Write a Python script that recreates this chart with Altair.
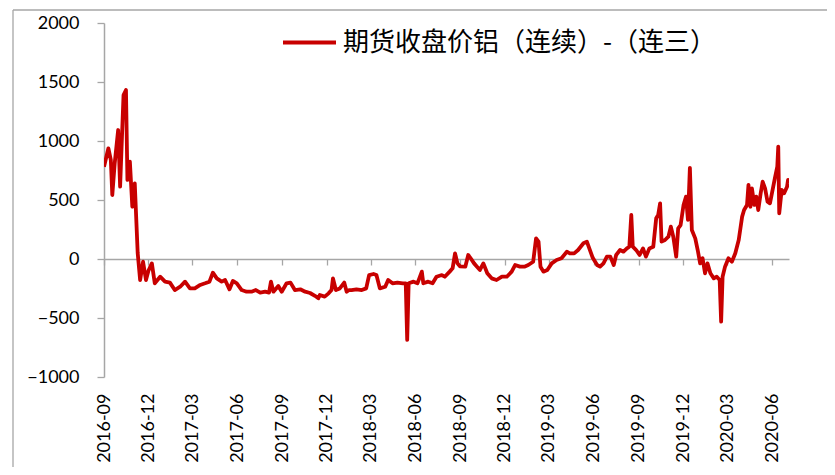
import altair as alt
import pandas as pd

# ---- data ----
dates = [
    "2016-09-01", "2016-09-10", "2016-09-15", "2016-09-18", "2016-09-23", "2016-09-30",
    "2016-10-04", "2016-10-11", "2016-10-16", "2016-10-19", "2016-10-24", "2016-10-29",
    "2016-11-03", "2016-11-09", "2016-11-14", "2016-11-20", "2016-11-26", "2016-12-01",
    "2016-12-08", "2016-12-14", "2016-12-25", "2017-01-04", "2017-01-14", "2017-01-24",
    "2017-02-04", "2017-02-14", "2017-02-24", "2017-03-06", "2017-03-17", "2017-03-27",
    "2017-04-05", "2017-04-12", "2017-04-20", "2017-04-30", "2017-05-07", "2017-05-16",
    "2017-05-23", "2017-05-31", "2017-06-10", "2017-06-20", "2017-06-30", "2017-07-09",
    "2017-07-18", "2017-07-28", "2017-08-05", "2017-08-09", "2017-08-14", "2017-08-24",
    "2017-08-31", "2017-09-10", "2017-09-18", "2017-09-27", "2017-10-08", "2017-10-18",
    "2017-10-28", "2017-11-07", "2017-11-14", "2017-11-17", "2017-11-27", "2017-12-05",
    "2017-12-11", "2017-12-14", "2017-12-20", "2017-12-28", "2018-01-06", "2018-01-11",
    "2018-01-16", "2018-01-21", "2018-01-31", "2018-02-11", "2018-02-20", "2018-02-26",
    "2018-03-07", "2018-03-13", "2018-03-20", "2018-03-31", "2018-04-06", "2018-04-15",
    "2018-04-25", "2018-05-06", "2018-05-12", "2018-05-15", "2018-05-18", "2018-05-28",
    "2018-06-05", "2018-06-14", "2018-06-17", "2018-06-27", "2018-07-06", "2018-07-14",
    "2018-07-25", "2018-07-31", "2018-08-10", "2018-08-16", "2018-08-21", "2018-08-26",
    "2018-08-31", "2018-09-11", "2018-09-17", "2018-09-22", "2018-09-29", "2018-10-05",
    "2018-10-11", "2018-10-18", "2018-10-26", "2018-11-04", "2018-11-14", "2018-11-25",
    "2018-12-05", "2018-12-15", "2018-12-22", "2019-01-01", "2019-01-10", "2019-01-18",
    "2019-01-28", "2019-02-03", "2019-02-08", "2019-02-12", "2019-02-18", "2019-02-26",
    "2019-03-07", "2019-03-17", "2019-03-27", "2019-04-07", "2019-04-13", "2019-04-22",
    "2019-04-30", "2019-05-11", "2019-05-18", "2019-05-23", "2019-05-30", "2019-06-08",
    "2019-06-14", "2019-06-21", "2019-06-28", "2019-07-05", "2019-07-12", "2019-07-17",
    "2019-07-25", "2019-08-01", "2019-08-08", "2019-08-13", "2019-08-17", "2019-08-20",
    "2019-08-27", "2019-09-03", "2019-09-10", "2019-09-16", "2019-09-23", "2019-10-01",
    "2019-10-07", "2019-10-11", "2019-10-15", "2019-10-18", "2019-10-25", "2019-11-01",
    "2019-11-06", "2019-11-11", "2019-11-17", "2019-11-21", "2019-11-26", "2019-12-02",
    "2019-12-07", "2019-12-11", "2019-12-15", "2019-12-19", "2019-12-26", "2019-12-31",
    "2020-01-05", "2020-01-10", "2020-01-15", "2020-01-20", "2020-01-26", "2020-02-02",
    "2020-02-08", "2020-02-14", "2020-02-17", "2020-02-20", "2020-02-25", "2020-03-03",
    "2020-03-10", "2020-03-17", "2020-03-24", "2020-03-27", "2020-03-31", "2020-04-04",
    "2020-04-10", "2020-04-13", "2020-04-17", "2020-04-20", "2020-04-25", "2020-04-29",
    "2020-05-03", "2020-05-08", "2020-05-12", "2020-05-17", "2020-05-22", "2020-05-27",
    "2020-06-02", "2020-06-06", "2020-06-11", "2020-06-13", "2020-06-15", "2020-06-20",
    "2020-06-25", "2020-07-01", "2020-07-03", "2020-07-05",
]
values = [
    782, 938, 839, 542, 814, 1093,
    613, 1390, 1432, 670, 825, 443,
    641, 51, -178, -23, -178, -100,
    -37, -206, -150, -192, -200, -263,
    -235, -192, -249, -249, -220, -206,
    -192, -116, -164, -192, -178, -257,
    -186, -206, -263, -277, -277, -263,
    -285, -277, -285, -192, -277, -229,
    -277, -206, -200, -263, -257, -277,
    -288, -312, -333, -305, -319, -291,
    -263, -164, -263, -249, -200, -277,
    -263, -263, -257, -263, -249, -136,
    -127, -136, -249, -235, -178, -206,
    -200, -206, -206, -686, -206, -192,
    -206, -107, -206, -192, -206, -150,
    -136, -150, -107, -79, 48, -37,
    -62, -65, 34, 6, -37, -65,
    -93, -37, -121, -164, -178, -150,
    -150, -107, -51, -65, -65, -51,
    -23, 175, 147, -65, -107, -93,
    -37, -8, 6, 62, 48, 48,
    76, 133, 147, 90, 10, -51,
    -65, -37, 20, 20, -51, 34,
    76, 62, 90, 104, 373, 104,
    76, 34, 90, 20, 90, 104,
    345, 373, 472, 147, 161, 189,
    274, 189, 20, 260, 288, 458,
    528, 331, 772, 246, 175, 76,
    -37, 6, -121, -37, -121, -164,
    -150, -178, -531, -150, -65, 6,
    -23, 48, 161, 246, 359, 415,
    458, 627, 443, 599, 458, 528,
    415, 557, 655, 599, 486, 472,
    599, 684, 782, 952, 387, 585,
    557, 613, 670, 642,
]
series_name = "期货收盘价铝（连续）-（连三）"
y_ticks = [-1000, -500, 0, 500, 1000, 1500, 2000]
x_tick_dates = [
    "2016-09-01", "2016-12-01", "2017-03-01", "2017-06-01", "2017-09-01",
    "2017-12-01", "2018-03-01", "2018-06-01", "2018-09-01", "2018-12-01",
    "2019-03-01", "2019-06-01", "2019-09-01", "2019-12-01", "2020-03-01",
    "2020-06-01",
]
x_domain = ["2016-09-01", "2020-07-05"]

df = pd.DataFrame({"date": dates, "value": values, "series": series_name})


def dt(s):
    y, m, d = (int(p) for p in s.split("-"))
    return alt.DateTime(year=y, month=m, date=d, utc=True)


W, H = 685, 354
ZERO_FROM_BOTTOM = H * 1000 / 3000  # distance of value 0 above the plot bottom

RED = "#C80000"
GREY = "#A6A6A6"

line = alt.Chart(df).mark_line(strokeWidth=3.8, strokeJoin="round", clip=True).encode(
    x=alt.X(
        "date:T",
        title=None,
        scale=alt.Scale(type="utc", domain=[dt(s) for s in x_domain]),
        axis=alt.Axis(
            values=[dt(s) for s in x_tick_dates],
            labelExpr="utcFormat(datum.value, '%Y-%m')",
            labelAngle=270,
            offset=-ZERO_FROM_BOTTOM,
            tickSize=6,
            labelPadding=128,
            domainColor=GREY,
            tickColor=GREY,
            domainWidth=1.5,
            tickWidth=1.3,
            grid=False,
            labelFont="Lato",
            labelFontSize=18,
            labelColor="#000000",
        ),
    ),
    y=alt.Y(
        "value:Q",
        title=None,
        scale=alt.Scale(domain=[-1000, 2000], nice=False, zero=False),
        axis=alt.Axis(
            values=y_ticks,
            format="d",
            tickSize=7,
            labelPadding=18,
            domainColor=GREY,
            tickColor=GREY,
            domainWidth=1.5,
            tickWidth=1.3,
            grid=False,
            labelFont="Lato",
            labelFontSize=18,
            labelColor="#000000",
        ),
    ),
    color=alt.Color(
        "series:N",
        scale=alt.Scale(range=[RED]),
        legend=alt.Legend(
            title=None,
            orient="none",
            legendX=177,
            legendY=-9,
            symbolType="stroke",
            symbolSize=2809,
            symbolStrokeWidth=4,
            labelFont="Noto Sans CJK SC",
            labelFontSize=26,
            labelColor="#000000",
            labelLimit=800,
            labelOffset=5,
            padding=0,
        ),
    ),
)

frame_df = pd.DataFrame({"k": [0]})
frame_left = alt.Chart(frame_df).mark_rule(color=GREY, strokeWidth=1.3).encode(
    x=alt.value(-91), y=alt.value(-13), y2=alt.value(H + 120)
)
frame_top = alt.Chart(frame_df).mark_rule(color=GREY, strokeWidth=1.3).encode(
    x=alt.value(-91), x2=alt.value(W + 60), y=alt.value(-13)
)

chart = (
    alt.layer(frame_left, frame_top, line)
    .properties(
        width=W,
        height=H,
        autosize=alt.AutoSizeParams(type="none"),
        padding={"left": 96, "top": 15, "right": 38, "bottom": 90},
        background="#FFFFFF",
    )
    .configure_view(stroke=None)
)

chart.save("out.html", embed_options={"renderer": "svg", "actions": False})
